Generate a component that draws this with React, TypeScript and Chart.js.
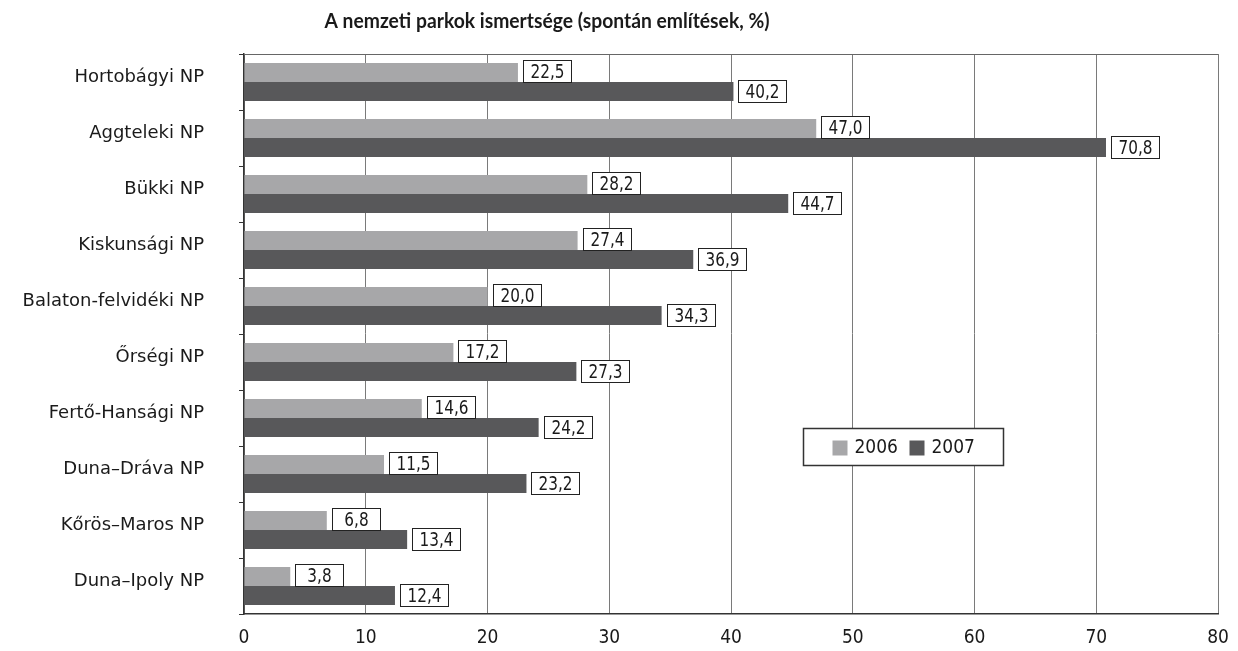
import React, { useEffect, useRef } from 'react';
import { Chart, registerables } from 'chart.js';

Chart.register(...registerables);

const chartTitle = 'A nemzeti parkok ismertsége (spontán említések, %)';
const categories = [
  'Hortobágyi NP',
  'Aggteleki NP',
  'Bükki NP',
  'Kiskunsági NP',
  'Balaton-felvidéki NP',
  'Őrségi NP',
  'Fertő-Hansági NP',
  'Duna–Dráva NP',
  'Kőrös–Maros NP',
  'Duna–Ipoly NP',
];
const seriesNames = ['2006', '2007'];
const values2006 = [22.5, 47.0, 28.2, 27.4, 20.0, 17.2, 14.6, 11.5, 6.8, 3.8];
const values2007 = [40.2, 70.8, 44.7, 36.9, 34.3, 27.3, 24.2, 23.2, 13.4, 12.4];
const xMin = 0;
const xMax = 80;
const xStep = 10;

const colors = ['#a7a7a9', '#58585a'];
const COND = "'DejaVu Sans Condensed', 'DejaVu Sans', sans-serif";
const LABEL_FONT = "'DejaVu Sans', sans-serif";
const TITLE_FONT = "Lato, 'DejaVu Sans Condensed', sans-serif";

const fmt = (v: number) => v.toFixed(1).replace('.', ',');

function drawScaledText(ctx: any, text: string, x: number, y: number, sx: number) {
  ctx.save();
  ctx.translate(x, y);
  ctx.scale(sx, 1);
  ctx.fillText(text, 0, 0);
  ctx.restore();
}

const decorPlugin = {
  id: 'decor',
  afterDatasetsDraw(chart: any) {
    const ctx = chart.ctx;
    const area = chart.chartArea;
    ctx.save();
    // top frame line
    ctx.strokeStyle = '#666';
    ctx.lineWidth = 1;
    ctx.beginPath();
    ctx.moveTo(area.left, Math.round(area.top) + 0.5);
    ctx.lineTo(area.right, Math.round(area.top) + 0.5);
    ctx.stroke();

    // value labels
    ctx.font = `20px ${COND}`;
    ctx.textAlign = 'center';
    ctx.textBaseline = 'middle';
    chart.data.datasets.forEach((ds: any, di: number) => {
      const meta = chart.getDatasetMeta(di);
      meta.data.forEach((bar: any, i: number) => {
        const v = ds.data[i];
        const bx = Math.round(bar.x) + 5.5;
        const by = Math.round(bar.y - 12) + 0.5;
        const w = 48;
        const h = 22;
        ctx.fillStyle = '#fff';
        ctx.fillRect(bx, by, w, h);
        ctx.strokeStyle = '#222';
        ctx.lineWidth = 1;
        ctx.strokeRect(bx, by, w, h);
        ctx.fillStyle = '#1a1a1a';
        drawScaledText(ctx, fmt(v), bx + w / 2, by + h / 2 + 1, 0.85);
      });
    });

    // legend box
    const lx = area.left + 559.5;
    const ly = area.top + 374.5;
    const lw = 200;
    const lh = 37;
    ctx.fillStyle = '#fff';
    ctx.fillRect(lx, ly, lw, lh);
    ctx.strokeStyle = '#333';
    ctx.lineWidth = 1.5;
    ctx.strokeRect(lx, ly, lw, lh);
    ctx.font = `19px ${COND}`;
    ctx.textAlign = 'left';
    ctx.textBaseline = 'middle';
    const offsets = [29, 106];
    seriesNames.forEach((name, i) => {
      const sx = lx + offsets[i];
      ctx.fillStyle = colors[i];
      ctx.fillRect(sx, ly + 12, 15, 15);
      ctx.fillStyle = '#1a1a1a';
      ctx.fillText(name, sx + 22, ly + lh / 2 + 1);
    });

    // title
    ctx.font = `bold 20px ${TITLE_FONT}`;
    ctx.textAlign = 'center';
    ctx.textBaseline = 'alphabetic';
    ctx.fillStyle = '#1a1a1a';
    const tw = ctx.measureText(chartTitle).width;
    const scale = Math.max(0.9, Math.min(1.1, 445 / tw));
    drawScaledText(ctx, chartTitle, 547, 28, scale);
    ctx.restore();
  },
};

export default function App() {
  const ref = useRef<HTMLCanvasElement | null>(null);
  useEffect(() => {
    if (!ref.current) return;
    const chart = new Chart(ref.current, {
      type: 'bar',
      data: {
        labels: categories,
        datasets: [
          { label: seriesNames[0], data: values2006, backgroundColor: colors[0], borderWidth: 0, categoryPercentage: 0.68, barPercentage: 1 },
          { label: seriesNames[1], data: values2007, backgroundColor: colors[1], borderWidth: 0, categoryPercentage: 0.68, barPercentage: 1 },
        ],
      },
      options: {
        indexAxis: 'y',
        responsive: false,
        animation: false,
        devicePixelRatio: 1,
        layout: { padding: { top: 54, right: 20, left: 0, bottom: 0 } },
        plugins: {
          legend: { display: false },
          title: { display: false },
          tooltip: { enabled: false },
        },
        scales: {
          x: {
            type: 'linear',
            min: xMin,
            max: xMax,
            ticks: {
              stepSize: xStep,
              padding: 13,
              color: '#1a1a1a',
              font: { family: COND, size: 19 },
              callback: (v: any) => String(v),
            },
            grid: { color: '#7a7a7a', lineWidth: 1, drawTicks: false },
            border: { color: '#333', width: 1.5 },
            afterFit: (s: any) => {
              s.height = 37;
              s.paddingLeft = 0;
              s.paddingRight = 0;
            },
          },
          y: {
            type: 'category',
            ticks: {
              padding: 35,
              labelOffset: -5,
              color: '#1a1a1a',
              font: { family: LABEL_FONT, size: 18 },
            },
            grid: { offset: true, drawOnChartArea: false, drawTicks: true, tickLength: 5, color: '#333' },
            border: { color: '#333', width: 1.5 },
            afterFit: (s: any) => {
              s.width = 244;
              s.paddingTop = 0;
              s.paddingBottom = 0;
            },
          },
        },
      },
      plugins: [decorPlugin],
    } as any);
    return () => chart.destroy();
  }, []);
  return (
    <div style={{ position: 'fixed', left: 0, top: 0, width: 1238, height: 651, background: '#fff' }}>
      <canvas ref={ref} width={1238} height={651} />
    </div>
  );
}
